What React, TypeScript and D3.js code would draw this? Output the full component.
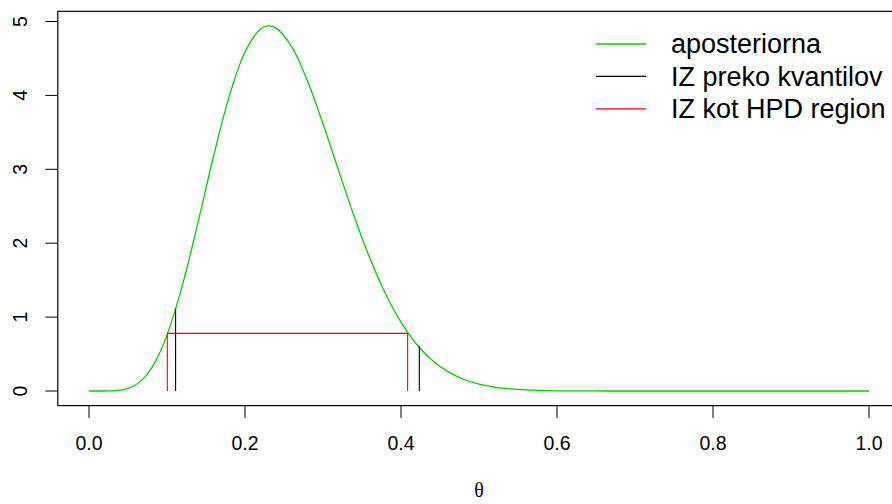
import * as d3 from "d3";
import { useEffect, useRef } from "react";

// posterior density
const theta = [0, 0.01, 0.02, 0.03, 0.04, 0.05, 0.06, 0.07, 0.08, 0.09, 0.1, 0.12, 0.14, 0.16, 0.18, 0.2, 0.22, 0.23, 0.24, 0.26, 0.28, 0.3, 0.32, 0.34, 0.36, 0.38, 0.4, 0.42, 0.44, 0.46, 0.48, 0.5, 0.52, 0.54, 0.56, 0.58, 0.6, 0.65, 0.7, 0.8, 0.9, 1.0];
const density = [0, 0, 0.0003, 0.0025, 0.0113, 0.0348, 0.0841, 0.1713, 0.3075, 0.501, 0.756, 1.44, 2.292, 3.19, 3.994, 4.587, 4.898, 4.94, 4.91, 4.657, 4.199, 3.616, 2.983, 2.362, 1.799, 1.319, 0.931, 0.633, 0.415, 0.262, 0.159, 0.093, 0.052, 0.028, 0.014, 0.007, 0.003, 0.0004, 0, 0, 0, 0];

// interval via quantiles: [lower, upper], and density height at each end
const quantileBounds = [0.111, 0.4235];
const quantileHeights = [1.11, 0.605];

// HPD interval and its density cut
const hpdBounds = [0.1004, 0.4085];
const hpdHeight = 0.78;

const xTicks = [0, 0.2, 0.4, 0.6, 0.8, 1.0];
const yTicks = [0, 1, 2, 3, 4, 5];

const legendLabels = ["aposteriorna", "IZ preko kvantilov", "IZ kot HPD region"];
const legendColors = ["#00CD00", "#000000", "#FF0000"];

function App() {
    const ref = useRef<SVGSVGElement>(null);

    useEffect(() => {
        const svg = d3.select(ref.current);
        svg.selectAll("*").remove();

        const width = 892;
        const height = 504;
        const font = "'Liberation Sans', Arial, sans-serif";

        const x = d3.scaleLinear().domain([0, 1]).range([89, 869]);
        const y = d3.scaleLinear().domain([0, 5]).range([391, 21.5]);

        // R style 4% padding around data range
        const ymax = d3.max(density) || 0;
        const x0 = x(-0.04), x1 = x(1.04);
        const y0 = y(-ymax * 0.04), y1 = y(ymax * 1.04);

        svg.attr("width", width).attr("height", height);

        // box
        svg.append("rect")
            .attr("x", x0)
            .attr("y", y1)
            .attr("width", x1 - x0)
            .attr("height", y0 - y1)
            .attr("fill", "none")
            .attr("stroke", "#000")
            .attr("stroke-width", 1.2);

        // x axis
        const gx = svg.append("g");
        gx.selectAll(".xt")
            .data(xTicks)
            .enter()
            .append("line")
            .attr("x1", d => x(d)).attr("x2", d => x(d))
            .attr("y1", y0).attr("y2", y0 + 12.5)
            .attr("stroke", "#000");
        gx.selectAll(".xl")
            .data(xTicks)
            .enter()
            .append("text")
            .attr("x", d => x(d))
            .attr("y", 450)
            .attr("text-anchor", "middle")
            .style("font-family", font)
            .style("font-size", "19.5px")
            .text(d => d.toFixed(1));

        // y axis
        const gy = svg.append("g");
        gy.selectAll(".yt")
            .data(yTicks)
            .enter()
            .append("line")
            .attr("x1", x0 - 12.5).attr("x2", x0)
            .attr("y1", d => y(d)).attr("y2", d => y(d))
            .attr("stroke", "#000");
        gy.selectAll(".yl")
            .data(yTicks)
            .enter()
            .append("text")
            .attr("transform", d => `translate(27,${y(d)}) rotate(-90)`)
            .attr("text-anchor", "middle")
            .style("font-family", font)
            .style("font-size", "19.5px")
            .text(d => d);

        // axis title
        svg.append("text")
            .attr("x", (x0 + x1) / 2)
            .attr("y", 497)
            .attr("text-anchor", "middle")
            .style("font-family", "'Liberation Serif', 'DejaVu Serif', serif")
            .style("font-size", "20px")
            .text("θ");

        // clip to plot region
        svg.append("clipPath")
            .attr("id", "plotclip")
            .append("rect")
            .attr("x", x0).attr("y", y1)
            .attr("width", x1 - x0).attr("height", y0 - y1);

        const plot = svg.append("g").attr("clip-path", "url(#plotclip)");

        // density curve
        const line = d3.line<number>()
            .x((_, i) => x(theta[i]))
            .y(d => y(d))
            .curve(d3.curveCatmullRom.alpha(0.5));

        plot.append("path")
            .datum(density)
            .attr("d", line)
            .attr("fill", "none")
            .attr("stroke", legendColors[0])
            .attr("stroke-width", 1.3);

        // quantile interval (black verticals)
        plot.selectAll(".q")
            .data(quantileBounds)
            .enter()
            .append("line")
            .attr("x1", d => x(d)).attr("x2", d => x(d))
            .attr("y1", y(0)).attr("y2", (_, i) => y(quantileHeights[i]))
            .attr("stroke", legendColors[1])
            .attr("stroke-width", 1.1);

        // HPD interval (red verticals + horizontal)
        plot.selectAll(".h")
            .data(hpdBounds)
            .enter()
            .append("line")
            .attr("x1", d => x(d)).attr("x2", d => x(d))
            .attr("y1", y(0)).attr("y2", y(hpdHeight))
            .attr("stroke", legendColors[2])
            .attr("stroke-width", 1.1);

        plot.append("line")
            .attr("x1", x(hpdBounds[0])).attr("x2", x(hpdBounds[1]))
            .attr("y1", y(hpdHeight)).attr("y2", y(hpdHeight))
            .attr("stroke", legendColors[2])
            .attr("stroke-width", 1.1);

        // legend
        const lg = svg.append("g");
        const rowY = (i: number) => 44 + i * 32.4;
        lg.selectAll(".ll")
            .data(legendLabels)
            .enter()
            .append("line")
            .attr("x1", 596).attr("x2", 646)
            .attr("y1", (_, i) => rowY(i)).attr("y2", (_, i) => rowY(i))
            .attr("stroke", (_, i) => legendColors[i])
            .attr("stroke-width", 1.3);
        lg.selectAll(".lt")
            .data(legendLabels)
            .enter()
            .append("text")
            .attr("x", 671)
            .attr("y", (_, i) => rowY(i) + 9.4)
            .style("font-family", font)
            .style("font-size", "27px")
            .text(d => d);
    }, []);

    return (
        <div style={{ position: "absolute", left: 0, top: 0 }}>
            <svg ref={ref} style={{ display: "block" }} />
        </div>
    );
}

export default App;
